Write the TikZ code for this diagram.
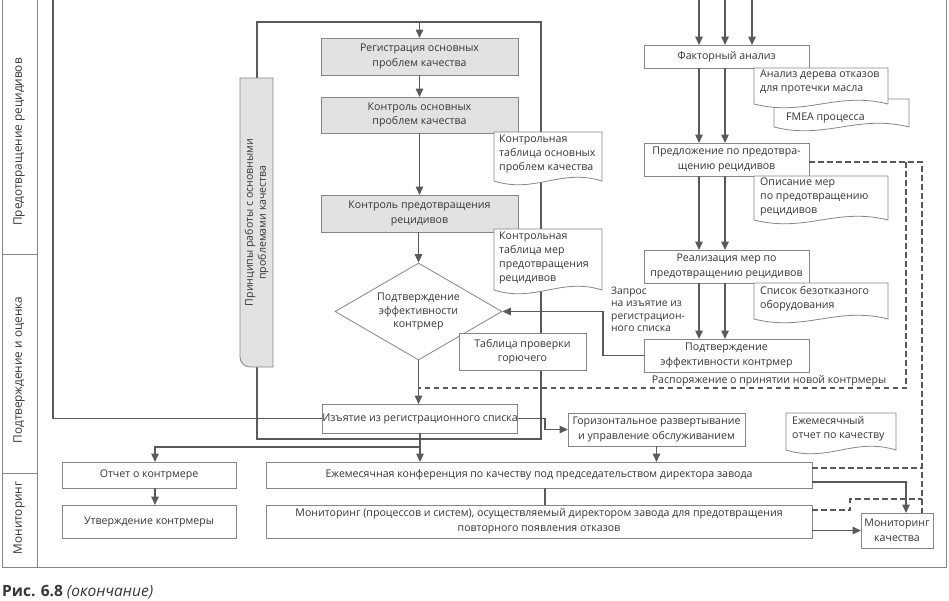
\documentclass[tikz,border=0pt]{standalone}
\usepackage{fontspec}
\setmainfont{Open Sans}
\usetikzlibrary{arrows.meta,shapes.geometric}
\definecolor{ln}{HTML}{5A5A5A}
\definecolor{bd}{HTML}{878787}
\definecolor{gf}{HTML}{E2E2E2}
\definecolor{tx}{HTML}{363636}
\newcommand\fsz{\fontsize{10.6}{14.5}\selectfont}
\newcommand\docshape[4]{%
  \draw[docst] (#1,#2) -- (#3,#2) -- (#3,#4) .. controls ({#1+0.62*(#3-#1)},{#4-13}) and ({#1+0.38*(#3-#1)},{#4+13}) .. (#1,#4) -- cycle;}
\begin{document}
\begin{tikzpicture}[x=1pt,y=-1pt,
  box/.style={draw=bd,line width=0.8pt,fill=white,inner sep=0pt,outer sep=0pt,align=center,text=tx,font=\fsz},
  gbox/.style={box,fill=gf},
  docst/.style={draw=bd,line width=0.8pt,fill=white},
  dtext/.style={anchor=north west,inner sep=0pt,align=left,text=tx,font=\fontsize{10.6}{14}\selectfont},
  conn/.style={draw=ln,line width=1.5pt},
  arr/.style={conn,-{Triangle[length=8.5pt,width=7.5pt]}},
  dsh/.style={draw=ln,line width=1.3pt,dash pattern=on 5.5pt off 3.5pt},
  framest/.style={draw=bd,line width=0.9pt},
  lane/.style={rotate=90,text=tx,font=\fontsize{11.8}{13}\selectfont,inner sep=0pt},
  lbl/.style={inner sep=0pt,text=tx,font=\fsz},
]
\useasboundingbox (0,0) rectangle (949,600);

% frame and lanes
\draw[framest] (2,0) -- (2,567) -- (946,567) -- (946,0);
\draw[framest] (37,0) -- (37,567);
\draw[framest] (2,254) -- (37,254);
\draw[framest] (2,473) -- (37,473);
\node[lane] (ln1) at (19,142) {Предотвращение рецидивов};
\node[lane] (ln2) at (19,370) {Подтверждение и оценка};
\node[lane] (ln3) at (19,518) {Мониторинг};

% loop around central column
\coordinate (prtop) at (257,78);
\coordinate (prbot) at (257,367);
\coordinate (cTR) at (541,22);
\coordinate (cBR) at (541,439);
\draw[conn] (prtop) |- (cTR) -- (cBR) -| (prbot);

% principles box
\draw[docst,fill=gf] (273,78) -- (240,78) -- (240,357) arc[start angle=180,end angle=270,radius=10pt] -- (273,367) -- cycle;
\node[rotate=90,align=center,text=tx,font=\fontsize{10.6}{13}\selectfont,inner sep=0pt] (princ) at (256.5,222.5) {Принципы работы с основными\\проблемами качества};

% central column
\node[gbox,minimum width=197pt,minimum height=37pt] (reg) at (419.5,56.5) {Регистрация основных\\проблем качества};
\node[gbox,minimum width=197pt,minimum height=36pt] (ko1) at (419.5,115) {Контроль основных\\проблем качества};
\node[gbox,minimum width=197pt,minimum height=37pt] (ko2) at (419.5,213.5) {Контроль предотвращения\\рецидивов};

\docshape{494}{132}{602}{181}
\node[dtext] (d1) at (499,135) {Контрольная\\таблица основных\\проблем качества};
\docshape{494}{229}{602}{290}
\node[dtext] (d2) at (499,232) {Контрольная\\таблица мер\\предотвращения\\рецидивов};

\node[diamond,draw=bd,line width=0.8pt,fill=white,aspect=1.72,minimum width=167pt,minimum height=97pt,inner sep=0pt,align=center,text=tx,font=\fontsize{10.6}{13.5}\selectfont] (dia) at (418.5,311.5) {Подтверждение\\эффективности\\контрмер};

\node[box,minimum width=127pt,minimum height=37pt] (tabl) at (522.5,351.5) {Таблица проверки\\горючего};
\node[box,minimum width=194pt,minimum height=29pt] (izj) at (420,418.5) {Изъятие из регистрационного списка};

% right column
\node[box,minimum width=165pt,minimum height=23pt] (fak) at (726.5,56.5) {Факторный анализ};
\docshape{774}{99}{909}{127}
\node[lbl,anchor=west] (d4) at (786,118) {FMEA процесса};
\docshape{754}{68}{888}{104}
\node[dtext] (d3) at (760,70) {Анализ дерева отказов\\для протечки масла};
\node[box,minimum width=165pt,minimum height=33pt] (pred) at (726.5,159.5) {Предложение по предотвра-\\щению рецидивов};
\docshape{754}{176}{888}{220}
\node[dtext] (d5) at (760,178) {Описание мер\\по предотвращению\\рецидивов};
\node[box,minimum width=165pt,minimum height=33pt] (real) at (726.5,266.5) {Реализация мер по\\предотвращению рецидивов};
\docshape{754}{283}{888}{319}
\node[dtext] (d6) at (760,286) {Список безотказного\\оборудования};
\node[box,minimum width=165pt,minimum height=33pt] (podt) at (726.5,355.5) {Подтверждение\\эффективности контрмер};
\node[lbl,anchor=north west,align=left,font=\fontsize{10.3}{12.3}\selectfont] (zap) at (611,287) {Запрос\\на изъятие из\\регистрацион-\\ного списка};
\node[lbl] (rasp) at (769,381) {Распоряжение о принятии новой контрмеры};

% bottom
\node[box,minimum width=177pt,minimum height=33pt] (hor) at (656.5,429.5) {Горизонтальное развертывание\\и управление обслуживанием};
\docshape{786}{413}{896}{450}
\node[dtext] (d7) at (792,416) {Ежемесячный\\отчет по качеству};
\node[box,minimum width=174pt,minimum height=26pt] (otch) at (149,475) {Отчет о контрмере};
\node[box,minimum width=174pt,minimum height=33pt] (utv) at (149,521.5) {Утверждение контрмеры};
\node[box,minimum width=546pt,minimum height=26pt] (conf) at (539,475) {Ежемесячная конференция по качеству под председательством директора завода};
\node[box,minimum width=546pt,minimum height=33pt] (mon) at (539,521.5) {Мониторинг (процессов и систем), осуществляемый директором завода для предотвращения\\повторного появления отказов};
\node[box,minimum width=72pt,minimum height=35pt] (mq) at (897,530.5) {Мониторинг\\качества};

% caption
\node[anchor=base west,inner sep=0pt,text=tx,font=\fontsize{15.5}{18}\selectfont] (cap) at (2,596) {\textbf{Рис. 6.8} \textit{(окончание)}};

% connectors central
\draw[arr] (reg.north |- cTR) -- (reg.north);
\draw[arr] (reg.south) -- (ko1.north);
\draw[arr] (ko1.south) -- (ko2.north);
\draw[arr] (dia.north |- ko2.south) -- (dia.north);
\draw[arr] (dia.south) -- (dia.south |- izj.north);
\coordinate (cL) at (53,0);
\draw[conn] (cL) |- (izj.west);
\coordinate (k1) at (545,418.5);
\draw[arr] (izj.east) -- (k1) |- (hor.west);
\coordinate (cY) at (155,447);
\draw[arr] (izj.south) -- (izj.south |- conf.north);
\draw[arr] (izj.south |- cY) -- (cY) -- (cY |- otch.north);
\draw[arr] (cY |- otch.south) -- (cY |- utv.north);
\draw[arr] (hor.south) -- (hor.south |- conf.north);
\coordinate (cM) at (545,0);
\draw[conn] (cM |- conf.south) -- (cM |- mon.north);

% right column connectors
\coordinate (t1) at (699,0);
\coordinate (t2) at (725,0);
\coordinate (t3) at (752,0);
\draw[arr] (t1) -- (t1 |- fak.north);
\draw[arr] (t2) -- (t2 |- fak.north);
\draw[arr] (t3) -- (t3 |- fak.north);
\draw[arr] (t1 |- fak.south) -- (t1 |- pred.north);
\draw[arr] (t2 |- fak.south) -- (t2 |- pred.north);
\draw[arr] (t1 |- pred.south) -- (t1 |- real.north);
\draw[arr] (t2 |- pred.south) -- (t2 |- real.north);
\draw[arr] (t1 |- real.south) -- (t1 |- podt.north);
\draw[arr] (t2 |- real.south) -- (t2 |- podt.north);
\coordinate (k2) at (603,355.5);
\draw[arr] (podt.west) -- (k2) |- (dia.east);

% dashed connectors
\coordinate (dV) at (922,162);
\coordinate (dI) at (906,162);
\coordinate (dH) at (0,388);
\draw[dsh] (pred.east |- dV) -- (dV) -- ([xshift=25pt]mq.north);
\draw[dsh] (dI) |- (dia.south |- dH);
\coordinate (cfd) at ([yshift=7pt]conf.east);
\coordinate (cfs) at ([yshift=-7pt]conf.east);
\draw[dsh] (cfd) -- (cfd -| dV);
\draw[arr] (cfs) -| ([xshift=9pt]mq.north);
\coordinate (mnd) at ([yshift=11.5pt]mon.east);
\coordinate (mj) at (850,499);
\draw[dsh] (mnd) -| (mj) -- (mj -| dV);
\draw[arr] (mon.east |- mq.west) -- (mq.west);
\end{tikzpicture}
\end{document}
